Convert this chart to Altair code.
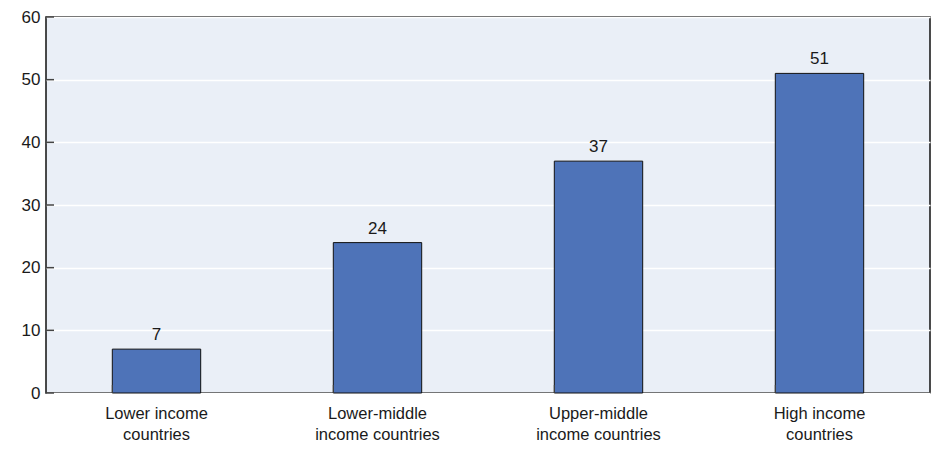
import altair as alt
import pandas as pd

categories = ["Lower income|countries", "Lower-middle|income countries",
              "Upper-middle|income countries", "High income|countries"]
values = [7, 24, 37, 51]
y_ticks = [0, 10, 20, 30, 40, 50, 60]

df = pd.DataFrame({"cat": categories, "val": values})
tick_df = pd.DataFrame({"v": y_ticks})

W, H = 884, 376
FONT = "Liberation Sans"

x_enc = alt.X("cat:N", sort=categories,
              scale=alt.Scale(paddingInner=0.6, paddingOuter=0.3),
              axis=alt.Axis(title=None, labelAngle=0, domain=False, ticks=False,
                            labelExpr="split(datum.label, '|')",
                            labelFontSize=16.5, labelFont=FONT, labelColor="#1a1a1a",
                            labelPadding=12, labelLineHeight=21, labelBaseline="top"))
y_enc = alt.Y("val:Q", scale=alt.Scale(domain=[0, 60], nice=False),
              axis=alt.Axis(title=None, values=y_ticks, domain=False, ticks=False,
                            grid=True, gridColor="white", gridWidth=1.5,
                            labelFontSize=17, labelFont=FONT, labelColor="#1a1a1a",
                            labelPadding=6))

base = alt.Chart(df)
bars = base.mark_bar(color="#4e73b8", stroke="#111", strokeWidth=1).encode(x=x_enc, y=y_enc)
text = base.mark_text(baseline="alphabetic", dy=-9, fontSize=17, font=FONT, color="#1a1a1a").encode(
    x=alt.X("cat:N", sort=categories), y=alt.Y("val:Q"), text=alt.Text("val:Q"))
xticks = base.mark_rule(color="#444", strokeWidth=1).encode(
    x=alt.X("cat:N", sort=categories, bandPosition=0),
    y=alt.value(H - 8), y2=alt.value(H))
yticks = alt.Chart(tick_df).mark_rule(color="#444", strokeWidth=1.5).encode(
    y=alt.Y("v:Q"), x=alt.value(0), x2=alt.value(8))

chart = alt.layer(bars, text, xticks, yticks).properties(
    width=W, height=H,
    autosize=alt.AutoSizeParams(type="none"),
    padding={"left": 38, "top": 9, "right": 1, "bottom": 50},
).configure_view(fill="#eaeff7", stroke="#111", strokeWidth=1.5)

chart.save("out.html", embed_options={"renderer": "svg", "actions": False})
